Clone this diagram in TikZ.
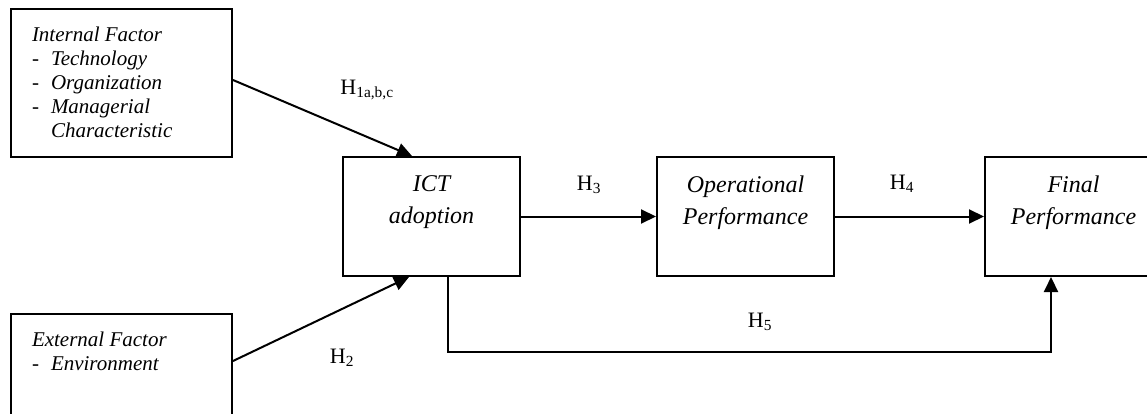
\documentclass[tikz,border=0pt]{standalone}
\usepackage{fontspec}
\setmainfont{Liberation Serif}
\usetikzlibrary{arrows.meta}

\begin{document}
\begin{tikzpicture}[x=1pt, y=-1pt, line width=2pt, >={Triangle[length=15pt, width=14pt]},
  factor/.style = {draw, minimum width=221pt, inner sep=0pt},
  stage/.style = {draw, minimum width=177pt, minimum height=119pt, inner sep=0pt},
  ftext/.style = {anchor=north west, inner sep=0pt, align=left, font=\fontsize{21}{24}\selectfont\itshape},
  stext/.style = {anchor=north, inner sep=0pt, align=center, font=\fontsize{24}{32}\selectfont\itshape},
  hyp/.style = {inner sep=0pt, font=\fontsize{22}{24}\selectfont}]
\useasboundingbox (0,0) rectangle (1147,414);

% boxes
\node[factor, minimum height=148pt] (int) at (121.5,83) {};
\node[factor, minimum height=126pt] (ext) at (121.5,377) {};
\node[stage] (ict) at (431.5,216.5) {};
\node[stage] (op) at (745.5,216.5) {};
\node[stage] (fin) at (1073.5,216.5) {};

% texts
\node[ftext] (intt) at ([xshift=21pt, yshift=-18pt]int.north west)
  {Internal Factor\\
   \makebox[19pt][l]{\upshape -}Technology\\
   \makebox[19pt][l]{\upshape -}Organization\\
   \makebox[19pt][l]{\upshape -}Managerial\\
   \hspace*{19pt}Characteristic};
\node[ftext] (extt) at ([xshift=21pt, yshift=-18pt]ext.north west)
  {External Factor\\
   \makebox[19pt][l]{\upshape -}Environment};
\node[stext] (ictt) at ([yshift=-19pt]ict.north) {ICT\\adoption};
\node[stext] (opt) at ([yshift=-19pt]op.north) {Operational\\Performance};
\node[stext] (fint) at ([yshift=-19pt]fin.north) {Final\\Performance};

% arrows
\draw[->] ([yshift=3pt]int.east) -- ([xshift=70pt]ict.north west);
\draw[->] ([yshift=-48pt]ext.north east) -- ([xshift=67pt]ict.south west);
\draw[->] (ict) -- (op);
\draw[->] (op) -- (fin);
\draw[->] ([xshift=106pt]ict.south west) -- ++(0,75) -| ([xshift=67pt]fin.south west);

% labels
\node[hyp] (h1) at (367,90) {H\textsubscript{1a,b,c}};
\node[hyp] (h2) at (342,358) {H\textsubscript{2}};
\node[hyp] (h3) at (589,185) {H\textsubscript{3}};
\node[hyp] (h4) at (902,184) {H\textsubscript{4}};
\node[hyp] (h5) at (760,322) {H\textsubscript{5}};
\end{tikzpicture}
\end{document}
